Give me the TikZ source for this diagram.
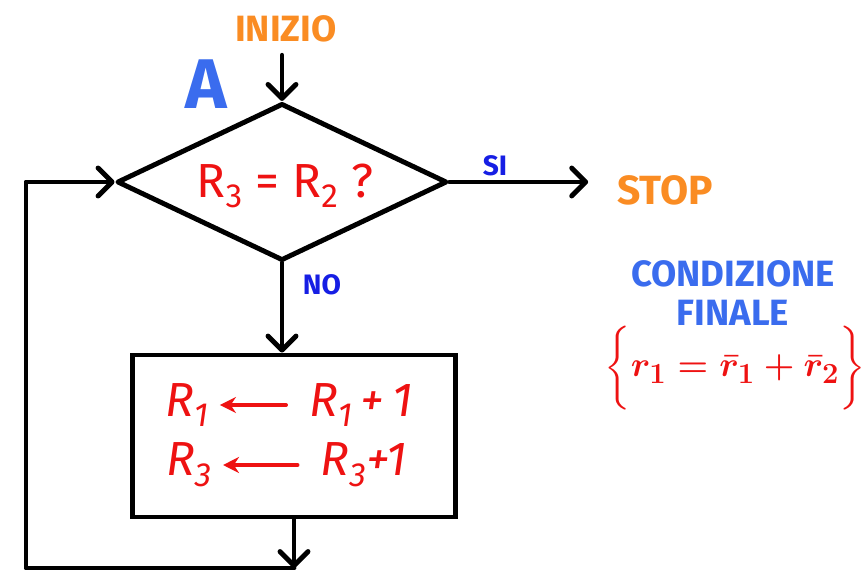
\documentclass[tikz,border=0pt]{standalone}
\usepackage{amsmath}
\usepackage{fontspec}
\setmainfont{Fira Sans}
\usepackage{tikz}
\usetikzlibrary{arrows.meta,positioning,shapes.geometric}

\definecolor{penred}{RGB}{238,18,18}
\definecolor{penblue}{RGB}{58,108,238}
\definecolor{pendeep}{RGB}{22,30,228}
\definecolor{penorange}{RGB}{250,140,35}

\begin{document}
\begin{tikzpicture}[x=0.025cm, y=-0.025cm,
    flow/.style={line width=3.5pt, line cap=round, line join=round,
      -{Straight Barb[round, length=3.5mm, width=7mm]}},
    assign/.style={penred, line width=2.6pt, line cap=round,
      -{Stealth[length=4mm, width=4mm]}, shorten >=2mm, shorten <=5mm},
    tag/.style={font=\fontsize{20}{24}\selectfont\bfseries, text=pendeep},
    reg/.style={font=\fontsize{34}{40}\selectfont\itshape, text=penred, inner sep=2pt}]
  \useasboundingbox (0,0) rectangle (866,579);

  % start and decision
  \node[font=\fontsize{26}{30}\selectfont\bfseries, text=penorange] (inizio) at (286,29) {INIZIO};
  \node[font=\fontsize{50}{56}\selectfont\bfseries, text=penblue] (lbl) at (206,84) {A};
  \node[diamond, draw, line width=3.5pt, line join=round, inner sep=0pt,
        minimum width=8.25cm, minimum height=3.93cm] (test) at (282,182) {};
  \node[font=\fontsize{34}{40}\selectfont, text=penred] (question) at (285,186)
        {R\textsubscript{3} = R\textsubscript{2} ?};
  \draw[flow, shorten <=2mm] (inizio.south -| test.north) -- (test.north);

  % exit
  \node[font=\fontsize{29}{34}\selectfont\bfseries, text=penorange] (stop) at (665,190) {STOP};
  \draw[flow, shorten >=6mm] (test.east) -- (test.east -| stop.west);
  \node[tag] (si) at (495,166) {SI};

  % loop body
  \node[draw, line width=3.5pt, minimum width=8.05cm, minimum height=4.05cm] (incr) at (294,436) {};
  \draw[flow] (test.south) -- (test.south |- incr.north);
  \node[tag] (no) at (322,285) {NO};

  \node[reg] (r1dst) at (187,405) {R\textsubscript{1}};
  \node[reg] (r1src) at (361,405) {R\textsubscript{1}\,+\,1};
  \node[reg] (r3dst) at (189,465) {R\textsubscript{3}};
  \node[reg] (r3src) at (364,465) {R\textsubscript{3}+1};
  \draw[assign] (r1src) -- (r1dst);
  \draw[assign] (r3src) -- (r3dst);

  % back to the test
  \coordinate (join) at (294,568);
  \coordinate (corner) at (26,568);
  \draw[flow] (incr.south) -- (join);
  \draw[flow] (join) -- (corner) |- (test.west);

  % final condition
  \node[font=\fontsize{26}{30}\selectfont\bfseries, text=penblue, align=center] (cond) at (733,293)
        {CONDIZIONE\\[-2pt]FINALE};
  \node[font=\fontsize{28}{34}\selectfont\boldmath, text=penred] (goal) at (735,368)
        {$\bigg\{ r_1 = \bar{r}_1 + \bar{r}_2 \bigg\}$};
\end{tikzpicture}
\end{document}
